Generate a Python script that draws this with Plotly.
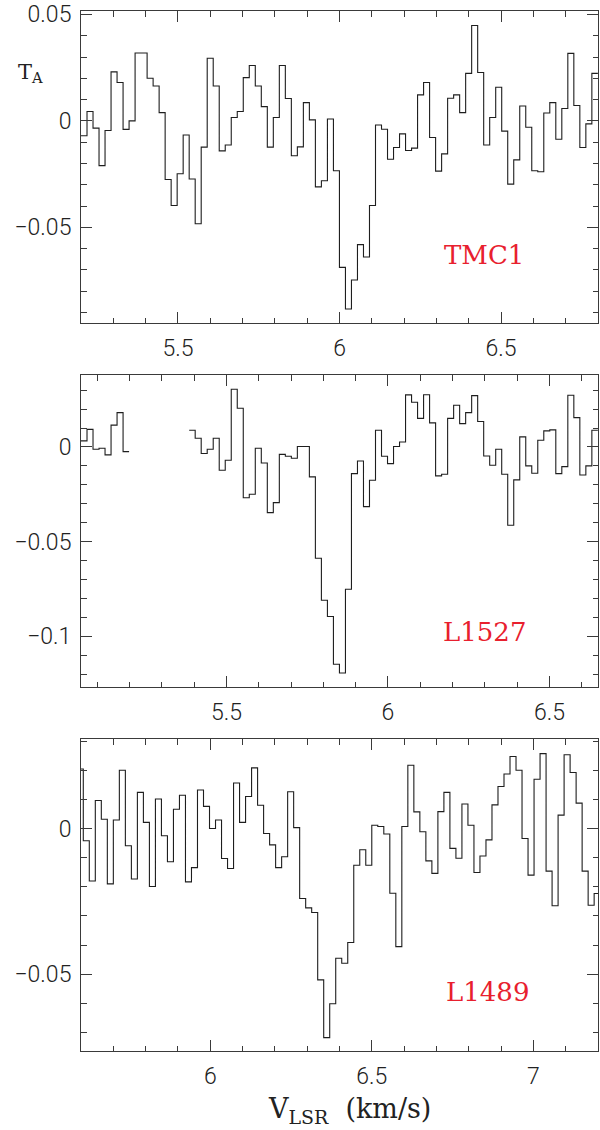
import plotly.graph_objects as go

# ---------------- data ----------------
CHAN_WIDTH = 0.0186  # km/s, channel width of all three spectra

SOURCES = ["TMC1", "L1527", "L1489"]

# left edge of first channel of each spectrum (km/s)
TMC1_START = 5.2
L1527_START = 5.05
L1489_START = 5.5885

# antenna temperature per channel (K); None = no data
TMC1_T = [
    -0.0070, 0.0044, -0.0034, -0.0210, -0.0045, 0.0230, 0.0180, -0.0040, 0.0000, 0.0319,
    0.0319, 0.0200, 0.0164, 0.0039, -0.0275, -0.0397, -0.0248, -0.0066, -0.0273, -0.0483,
    -0.0123, 0.0294, 0.0164, -0.0141, -0.0113, 0.0016, 0.0044, 0.0203, 0.0260, 0.0164,
    0.0067, -0.0123, 0.0016, 0.0260, 0.0105, -0.0164, -0.0122, 0.0086, 0.0005, -0.0310,
    -0.0281, 0.0009, -0.0234,
    -0.0688, -0.0883, -0.0747, -0.0581, -0.0639, -0.0397, -0.0019, -0.0039, -0.0180, -0.0125,
    -0.0061, -0.0139, -0.0128, 0.0122, 0.0180, -0.0078, -0.0236, -0.0155, 0.0106, 0.0122,
    0.0039, 0.0223, 0.0448, 0.0227, -0.0113, 0.0016, 0.0158, -0.0048, -0.0297, -0.0183,
    0.0070, -0.0030, -0.0234, -0.0239, 0.0037, 0.0086, -0.0086, 0.0058, 0.0317, 0.0072,
    -0.0125, -0.0014, 0.0223,
]

L1527_T = [
    0.0032, 0.0093, -0.0012, -0.0007, -0.0042, 0.0115, 0.0181, -0.0025,
    None, None, None, None, None, None, None, None, None, None,
    0.0088, 0.0046, -0.0035, -0.0012, 0.0046, -0.0123, -0.0070, 0.0305, 0.0204, -0.0268,
    -0.0250, -0.0007, -0.0085, -0.0347, -0.0294, -0.0039, -0.0049, -0.0060, 0.0002, 0.0002,
    -0.0158, -0.0588, -0.0810, -0.0896, -0.1148,
    -0.1194, -0.0752, -0.0141, -0.0074, -0.0315, -0.0176, 0.0088, -0.0049, -0.0088, 0.0002,
    0.0026, 0.0275, 0.0236, 0.0151, 0.0276, 0.0127, -0.0153, -0.0144, 0.0151, 0.0220,
    0.0123, 0.0181, 0.0271, 0.0134, -0.0048, -0.0097, -0.0012, -0.0144, -0.0414, -0.0174,
    0.0053, -0.0100, -0.0139, 0.0035, 0.0085, 0.0090, -0.0141, -0.0104, 0.0273, 0.0155,
    -0.0148, -0.0100, 0.0088,
]

L1489_T = [
    0.0204,
    -0.0042, -0.0180, 0.0096, 0.0032, -0.0190, 0.0029, 0.0200, -0.0059, -0.0173, 0.0124,
    0.0021, -0.0199, 0.0101, -0.0025, -0.0114, 0.0066, 0.0114, -0.0183, -0.0134, 0.0132,
    0.0076, 0.0000, 0.0029, -0.0103, -0.0137, 0.0156, 0.0021, 0.0110, 0.0208, 0.0080,
    -0.0017, -0.0056, -0.0134, -0.0097, 0.0126, 0.0003, -0.0240, -0.0272, -0.0288, -0.0519,
    -0.0717, -0.0601, -0.0445, -0.0462, -0.0391, -0.0126, -0.0073, -0.0126, 0.0011, 0.0007,
    -0.0019, -0.0222, -0.0405, 0.0007, 0.0217, 0.0057, -0.0011, -0.0111, -0.0154, 0.0058,
    0.0124, -0.0068, -0.0102, 0.0084, 0.0011, -0.0151, -0.0094, -0.0039, 0.0081, 0.0144,
    0.0187, 0.0247, 0.0200, -0.0034, -0.0160, 0.0169, 0.0257, -0.0146, -0.0265, 0.0046,
    0.0253, 0.0192, 0.0087, -0.0146, -0.0263,
    -0.0223,
]

STARTS = [TMC1_START, L1527_START, L1489_START]
SPECTRA = [TMC1_T, L1527_T, L1489_T]

X_RANGES = [[5.2, 6.8], [5.05, 6.65], [5.6, 7.2]]
Y_RANGES = [[-0.0949, 0.0516], [-0.1268, 0.0380], [-0.0763, 0.0307]]

X_TICKVALS = [[5.5, 6.0, 6.5], [5.5, 6.0, 6.5], [6.0, 6.5, 7.0]]
X_TICKTEXT = [["5.5", "6", "6.5"], ["5.5", "6", "6.5"], ["6", "6.5", "7"]]
Y_TICKVALS = [[-0.05, 0.0, 0.05], [-0.1, -0.05, 0.0], [-0.05, 0.0]]
Y_TICKTEXT = [["\u22120.05", "0", "0.05"], ["\u22120.1", "\u22120.05", "0"], ["\u22120.05", "0"]]

Y_LABEL = "T<sub>A</sub>"
X_LABEL = "V<sub>LSR</sub>\u00a0 (km/s)"

# ---------------- styling / layout ----------------
DOMAINS = [[0.70, 1.0], [0.35, 0.65], [0.0, 0.30]]
LABEL_POS = [(0.779, 0.217), (0.781, 0.175), (0.786, 0.189)]
LINE_COLOR = "#1e1e1e"
FRAME_COLOR = "#3a3a3a"
RED = "#e8202e"
TICK_FONT = dict(family="Roboto", size=23, color="#222222", weight=300)
SERIF = "DejaVu Serif"


def steps(start, width, values):
    xs, ys = [], []
    for k, v in enumerate(values):
        if v is None:
            xs.append(None)
            ys.append(None)
            continue
        left = start + k * width
        xs += [left, left + width]
        ys += [v, v]
    return xs, ys


fig = go.Figure()
annotations = []

for i in range(3):
    sfx = "" if i == 0 else str(i + 1)
    xs, ys = steps(STARTS[i], CHAN_WIDTH, SPECTRA[i])
    fig.add_trace(go.Scatter(
        x=xs, y=ys, mode="lines",
        line=dict(color=LINE_COLOR, width=1.1),
        xaxis="x" + sfx, yaxis="y" + sfx,
        hoverinfo="skip", showlegend=False,
    ))
    common = dict(
        showline=True, linecolor=FRAME_COLOR, linewidth=1, mirror="allticks",
        ticks="inside", ticklen=11, tickwidth=1, tickcolor=FRAME_COLOR,
        showgrid=False, zeroline=False, tickfont=TICK_FONT,
        tickmode="array", ticklabeloverflow="allow",
    )
    fig.update_layout(**{
        "xaxis" + sfx: dict(
            common, domain=[0, 1], anchor="y" + sfx, range=X_RANGES[i],
            tickvals=X_TICKVALS[i], ticktext=X_TICKTEXT[i],
            ticklabelstandoff=4,
            minor=dict(tickmode="linear", tick0=0, dtick=0.1, ticks="inside",
                       ticklen=5.5, tickwidth=1, tickcolor=FRAME_COLOR, showgrid=False),
        ),
        "yaxis" + sfx: dict(
            common, domain=DOMAINS[i], anchor="x" + sfx, range=Y_RANGES[i],
            tickvals=Y_TICKVALS[i], ticktext=Y_TICKTEXT[i],
            ticklabelstandoff=4,
            minor=dict(tickmode="linear", tick0=0, dtick=0.01, ticks="inside",
                       ticklen=5.5, tickwidth=1, tickcolor=FRAME_COLOR, showgrid=False),
        ),
    })
    annotations.append(dict(
        text=SOURCES[i], xref="x" + sfx + " domain", yref="y" + sfx + " domain",
        x=LABEL_POS[i][0], y=LABEL_POS[i][1], xanchor="center", yanchor="middle",
        showarrow=False, font=dict(family=SERIF, size=26, color=RED),
    ))

annotations.append(dict(
    text=Y_LABEL, xref="paper", yref="paper", x=-0.098, y=0.94,
    xanchor="center", yanchor="middle", showarrow=False,
    font=dict(family=SERIF, size=21, color="#222"),
))
annotations.append(dict(
    text=X_LABEL, xref="paper", yref="paper", x=0.519, y=-0.057,
    xanchor="center", yanchor="middle", showarrow=False,
    font=dict(family=SERIF, size=27, color="#222"),
))

fig.update_layout(
    width=600, height=1130,
    margin=dict(l=81, r=1, t=9, b=79),
    paper_bgcolor="white", plot_bgcolor="white",
    showlegend=False, annotations=annotations,
)

fig.write_html("out.html", config={"displayModeBar": False},
               post_script="document.body.style.margin='0';")
